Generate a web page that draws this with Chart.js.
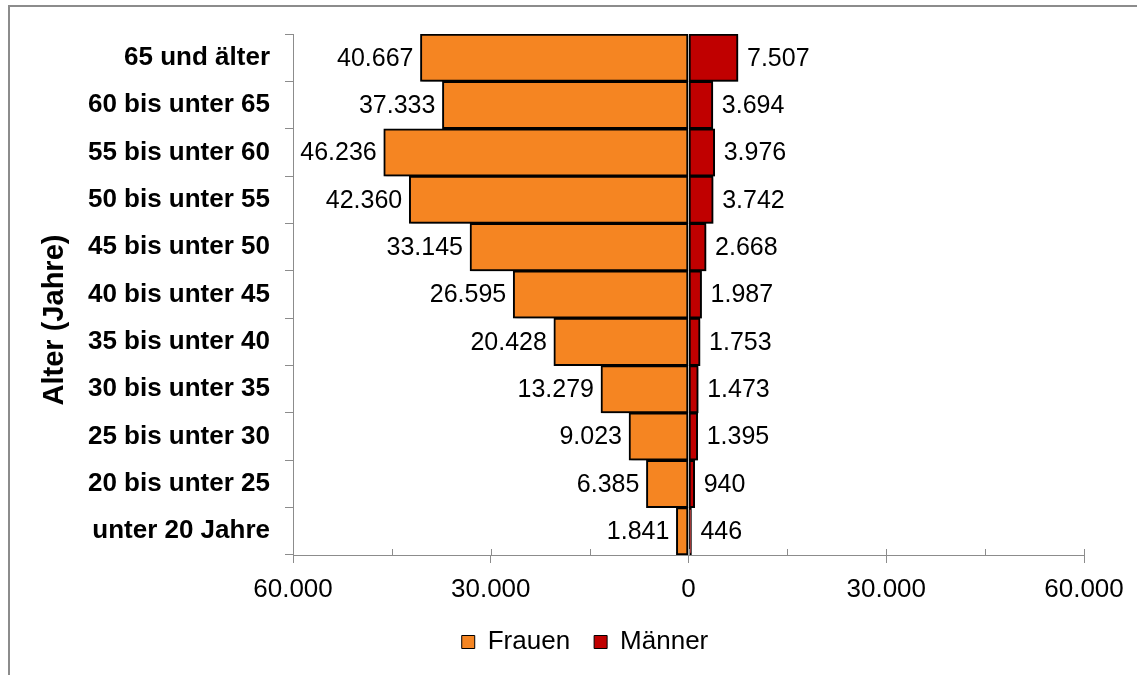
<!DOCTYPE html>
<html lang="de">
<head>
<meta charset="utf-8">
<script src="https://cdn.jsdelivr.net/npm/chart.js@4"></script>
<style>
    html, body { margin: 0; padding: 0; background: #fff; overflow: hidden; }
    #rahmen { position: absolute; left: 8px; top: 5px; width: 1200px; height: 720px; border: 2px solid #8c8c8c; }
    #wrap { position: absolute; left: 0; top: 0; width: 1137px; height: 675px; }
</style>
</head>
<body>
<div id="rahmen"></div>
<div id="wrap"><canvas id="myChart"></canvas></div>
<script>
// Altersgruppen (von oben nach unten)
const altersgruppen = ['65 und älter', '60 bis unter 65', '55 bis unter 60', '50 bis unter 55', '45 bis unter 50',
    '40 bis unter 45', '35 bis unter 40', '30 bis unter 35', '25 bis unter 30', '20 bis unter 25', 'unter 20 Jahre'];
const frauen = [40667, 37333, 46236, 42360, 33145, 26595, 20428, 13279, 9023, 6385, 1841];
const maenner = [7507, 3694, 3976, 3742, 2668, 1987, 1753, 1473, 1395, 940, 446];
const xTicks = [-60000, -30000, 0, 30000, 60000];
const achsenTitel = 'Alter (Jahre)';

const schrift = 'Liberation Sans, Arial, sans-serif';
const fmt = v => Math.abs(v).toLocaleString('de-DE');

// Schatten unter den Balken
const schattenPlugin = {
    id: 'schatten',
    beforeDatasetsDraw(chart) {
        const ctx = chart.ctx;
        ctx.save();
        ctx.shadowColor = 'rgba(0,0,0,0.35)';
        ctx.shadowBlur = 3;
        ctx.shadowOffsetX = 2;
        ctx.shadowOffsetY = 2;
    },
    afterDatasetsDraw(chart) {
        chart.ctx.restore();
    }
};

// Werte neben die Balken schreiben
const wertePlugin = {
    id: 'werte',
    afterDatasetsDraw(chart) {
        const ctx = chart.ctx;
        ctx.save();
        ctx.font = '25px ' + schrift;
        ctx.fillStyle = '#000';
        ctx.textBaseline = 'middle';
        chart.data.datasets.forEach((ds, i) => {
            chart.getDatasetMeta(i).data.forEach((bar, j) => {
                if (i === 0) {
                    ctx.textAlign = 'right';
                    ctx.fillText(fmt(ds.data[j]), bar.x - 7, bar.y + 1);
                } else {
                    ctx.textAlign = 'left';
                    ctx.fillText(fmt(ds.data[j]), bar.x + 9, bar.y + 1);
                }
            });
        });
        ctx.restore();
    }
};

// kleine Teilstriche nach innen auf der x-Achse + Achsentitel
const innenTicks = {
    id: 'innenTicks',
    afterDraw(chart) {
        const ctx = chart.ctx;
        const x = chart.scales.x;
        ctx.save();
        ctx.strokeStyle = '#8c8c8c';
        ctx.lineWidth = 1;
        x.ticks.forEach(t => {
            const px = Math.round(x.getPixelForValue(t.value)) + 0.5;
            ctx.beginPath();
            ctx.moveTo(px, x.top);
            ctx.lineTo(px, x.top - 6);
            ctx.stroke();
        });
        // Titel der y-Achse (etwas unterhalb der Mitte wie im Original)
        ctx.translate(55, 320);
        ctx.rotate(-Math.PI / 2);
        ctx.font = 'bold 29px ' + schrift;
        ctx.fillStyle = '#000';
        ctx.textAlign = 'center';
        ctx.textBaseline = 'middle';
        ctx.fillText(achsenTitel, 0, 0);
        ctx.restore();
    }
};

let ctx = document.getElementById('myChart').getContext('2d');
let graficoChart = new Chart(ctx, {
    type: 'bar',
    data: {
        labels: altersgruppen,
        datasets: [{
            label: 'Frauen',
            data: frauen.map(v => -v),
            backgroundColor: '#F58522',
            borderColor: '#000',
            borderWidth: 2,
            borderSkipped: false
        }, {
            label: 'Männer',
            data: maenner,
            backgroundColor: '#C00000',
            borderColor: '#000',
            borderWidth: 2,
            borderSkipped: false
        }]
    },
    options: {
        indexAxis: 'y',
        responsive: true,
        maintainAspectRatio: false,
        animation: false,
        barPercentage: 1,
        categoryPercentage: 1,
        layout: { padding: { top: 34, left: 86, right: 53, bottom: 10 } },
        plugins: {
            legend: {
                position: 'bottom',
                labels: {
                    font: { family: schrift, size: 26 },
                    color: '#000',
                    boxWidth: 13,
                    boxHeight: 13,
                    padding: 24,
                    generateLabels(chart) {
                        return chart.data.datasets.map((ds, i) => ({
                            text: ds.label,
                            fillStyle: ds.backgroundColor,
                            strokeStyle: '#000',
                            lineWidth: 1,
                            datasetIndex: i
                        }));
                    }
                }
            },
            tooltip: { enabled: false }
        },
        scales: {
            x: {
                stacked: true,
                min: -60000,
                max: 60000,
                afterBuildTicks(scale) {
                    const t = [];
                    xTicks.forEach((v, i) => {
                        t.push({ value: v });
                        if (i < xTicks.length - 1) t.push({ value: (v + xTicks[i + 1]) / 2 });
                    });
                    scale.ticks = t;
                },
                afterFit(scale) { scale.height = 50; },
                grid: {
                    drawOnChartArea: false,
                    tickLength: 8,
                    tickColor: c => xTicks.includes(c.tick.value) ? '#8c8c8c' : 'rgba(0,0,0,0)'
                },
                border: { color: '#8c8c8c', width: 1 },
                ticks: {
                    autoSkip: false,
                    maxRotation: 0,
                    padding: 11,
                    color: '#000',
                    font: { family: schrift, size: 26 },
                    callback: v => xTicks.includes(v) ? fmt(v) : ''
                }
            },
            y: {
                stacked: true,
                afterFit(scale) { scale.width = 207; },
                grid: {
                    drawOnChartArea: false,
                    tickLength: 8,
                    color: '#8c8c8c'
                },
                border: { color: '#8c8c8c', width: 1 },
                ticks: {
                    padding: 15,
                    color: '#000',
                    font: { family: schrift, size: 26, weight: 'bold' }
                }
            }
        }
    },
    plugins: [schattenPlugin, wertePlugin, innenTicks]
});
</script>
</body>
</html>
